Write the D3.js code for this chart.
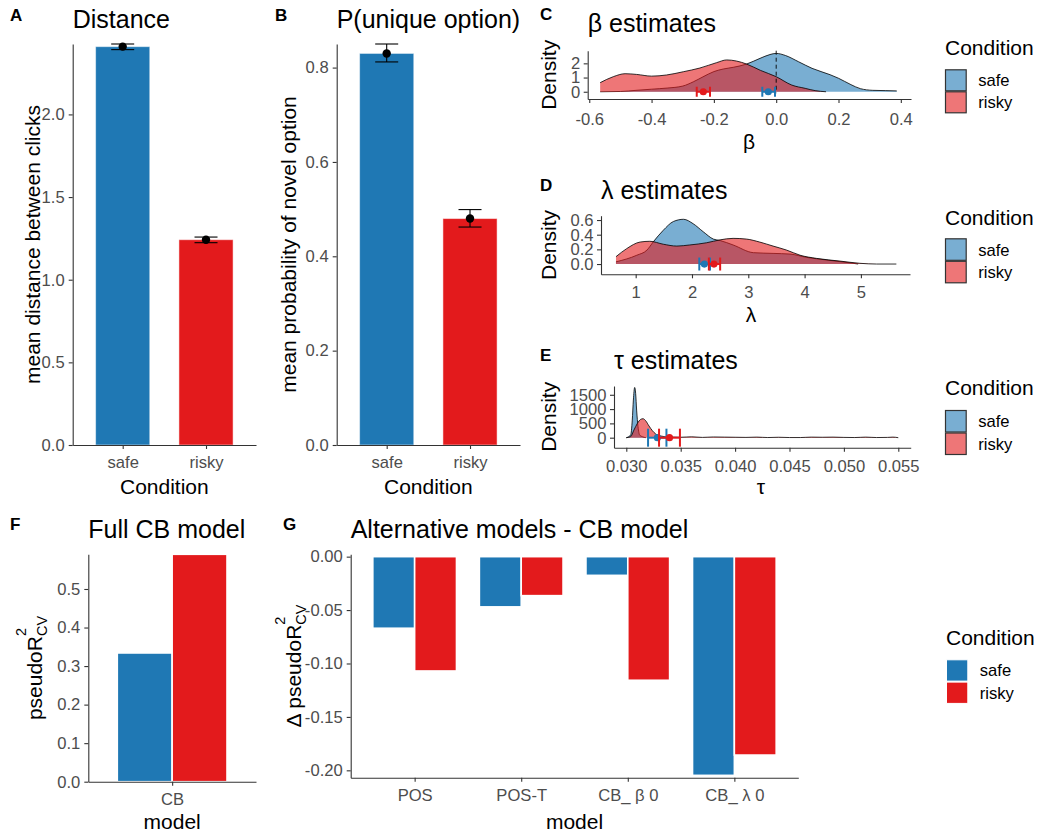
<!DOCTYPE html>
<html><head><meta charset="utf-8">
<script src="https://cdn.jsdelivr.net/npm/d3@7"></script>
<style>body{margin:0;background:#fff}</style>
</head><body>
<script>
// ---------------- DATA ----------------
const conditions = ["safe", "risky"];
const colors = ["#1F78B4", "#E31A1C"];

// A: distance
const distanceMean = [2.410, 1.242];
const distanceLow  = [2.392, 1.224];
const distanceHigh = [2.426, 1.258];
const distanceTicks = [0, 0.5, 1.0, 1.5, 2.0];

// B: P(unique option)
const uniqueMean = [0.830, 0.480];
const uniqueLow  = [0.812, 0.462];
const uniqueHigh = [0.850, 0.499];
const uniqueTicks = [0, 0.2, 0.4, 0.6, 0.8];

// C: beta densities
const betaSafeX = [-0.565,-0.5,-0.45,-0.4,-0.35,-0.3,-0.266,-0.235,-0.2,-0.17,-0.138,-0.095,-0.052,-0.02,0.0,0.03,0.072,0.115,0.173,0.2,0.24,0.27,0.31,0.35,0.387];
const betaSafeY = [0.0,0.02,0.1,0.18,0.26,0.4,0.7,1.05,1.42,1.6,1.72,1.95,2.35,2.62,2.70,2.55,2.11,1.65,1.2,0.95,0.5,0.22,0.1,0.08,0.06];
const betaRiskyX = [-0.565,-0.523,-0.485,-0.448,-0.4,-0.352,-0.298,-0.245,-0.191,-0.159,-0.127,-0.095,-0.05,0.0,0.05,0.093,0.125,0.16];
const betaRiskyY = [0.64,1.06,1.27,1.22,1.1,1.18,1.41,1.67,2.05,2.24,2.16,1.95,1.5,1.06,0.47,0.24,0.08,0.0];
const betaMean = [-0.0254, -0.234];
const betaLow  = [-0.0446, -0.255];
const betaHigh = [-0.0039, -0.2125];
const betaXTicks = [-0.6,-0.4,-0.2,0.0,0.2,0.4];
const betaYTicks = [0,1,2];

// D: lambda densities
const lambdaSafeX = [0.65,1.02,1.2,1.31,1.49,1.67,1.85,2.02,2.2,2.38,2.5,2.73,3.09,3.44,3.74,4.04,4.39,4.86,4.95];
const lambdaSafeY = [0.03,0.12,0.19,0.30,0.46,0.58,0.61,0.55,0.44,0.34,0.32,0.26,0.155,0.145,0.136,0.09,0.055,0.01,0.0];
const lambdaRiskyX = [0.65,0.84,1.08,1.25,1.49,1.73,1.96,2.26,2.5,2.73,2.97,3.2,3.44,3.68,3.92,4.21,4.63,4.98,5.28,5.63];
const lambdaRiskyY = [0.10,0.21,0.30,0.31,0.27,0.245,0.26,0.29,0.33,0.35,0.34,0.30,0.245,0.19,0.12,0.077,0.04,0.01,0.0,0.0];
const lambdaMean = [2.22, 2.39];
const lambdaLow  = [2.13, 2.30];
const lambdaHigh = [2.32, 2.50];
const lambdaXTicks = [1,2,3,4,5];
const lambdaYTicks = [0,0.2,0.4,0.6];

// E: tau densities
const tauSafeX = [0.0300,0.0304,0.03055,0.03065,0.03077,0.03086,0.03095,0.03108,0.03123,0.03148,0.0318];
const tauSafeY = [0,93,616,1314,1756,1547,965,384,93,35,0];
const tauRiskyX = [0.0300,0.0304,0.0307,0.03102,0.03132,0.03154,0.03178,0.03209,0.0324,0.03271,0.03317,0.03394,0.0350,0.0360,0.0370,0.0380,0.0390,0.0400,0.0410,0.0420,0.0430,0.0440,0.0450,0.0460,0.0470,0.0480,0.0490,0.0500,0.0510,0.0520,0.0530,0.0540,0.0545,0.0550];
const tauRiskyY = [0,35,267,500,640,663,593,407,244,128,58,23,15,30,10,25,20,15,10,20,5,15,5,5,20,15,20,10,5,20,5,10,20,0];
const tauMean = [0.03286, 0.03397];
const tauLow  = [0.03200, 0.03301];
const tauHigh = [0.03369, 0.03493];
const tauXTicks = [0.030,0.035,0.040,0.045,0.050,0.055];
const tauYTicks = [0,500,1000,1500];

// F: full CB model
const fullModel = ["CB"];
const fullSafe = [0.334];
const fullRisky = [0.590];
const fullTicks = [0,0.1,0.2,0.3,0.4,0.5];

// G: alternative models - CB model
const altModels = ["POS","POS-T","CB_ β 0","CB_ λ 0"];
const altSafe  = [-0.067,-0.047,-0.0175,-0.2047];
const altRisky = [-0.107,-0.0365,-0.1157,-0.1857];
const altTicks = [0,-0.05,-0.10,-0.15,-0.20];

// ---------------- STYLE ----------------
const FONT = "'Liberation Sans', Arial, Helvetica, sans-serif";
const TICK_FS = 16.6, AXT_FS = 21, TITLE_FS = 25, TAG_FS = 17, SCRIPT_FS = 14.5;

const svg = d3.select("body").append("svg")
  .attr("width", 1037).attr("height", 834)
  .style("font-family", FONT);
svg.append("rect").attr("width",1037).attr("height",834).attr("fill","white");

function styleAxis(g){
  g.attr("font-family", null).attr("font-size", null);
  g.select(".domain").attr("stroke","#333").attr("stroke-width",1.1);
  g.selectAll(".tick line").attr("stroke","#333").attr("stroke-width",1.1);
  g.selectAll(".tick text").attr("fill","#4D4D4D").style("font-size", TICK_FS+"px");
}
function addText(x,y,s,size,opts={}){
  const t = svg.append("text").attr("x",x).attr("y",y).text(s)
    .style("font-size", size+"px").attr("fill","black");
  if(opts.anchor) t.attr("text-anchor",opts.anchor);
  if(opts.bold) t.style("font-weight","bold");
  return t;
}
function yTitle(x,y,s){
  svg.append("text").attr("transform",`translate(${x},${y}) rotate(-90)`)
    .attr("text-anchor","middle").style("font-size",AXT_FS+"px").text(s);
}
function r2Title(x,y,prefix){
  const t = svg.append("text").attr("transform",`translate(${x},${y}) rotate(-90)`)
    .attr("text-anchor","middle").style("font-size",AXT_FS+"px");
  t.append("tspan").text(prefix + "pseudoR");
  t.append("tspan").text("2").style("font-size",SCRIPT_FS+"px").attr("dy",-16);
  t.append("tspan").text("CV").style("font-size",SCRIPT_FS+"px").attr("dx",-SCRIPT_FS*0.556).attr("dy",21);
}
function legend(x, titleY, keyY, keyW, keyH, solid){
  addText(x, titleY, "Condition", AXT_FS);
  conditions.forEach((c,i)=>{
    const ky = keyY + i*keyH;
    svg.append("rect").attr("x",x+0.5).attr("y",ky+0.5).attr("width",keyW-1).attr("height",keyH-1)
      .attr("fill",colors[i]).attr("fill-opacity", solid?1:0.6)
      .attr("stroke", solid?"white":"#333").attr("stroke-width", solid?1:1.2);
    svg.append("text").attr("x",x+keyW+11.5).attr("y",ky+keyH/2).attr("dy","0.36em")
      .style("font-size",TICK_FS+"px").text(c);
  });
}

// ---------------- BAR PANELS (A, B) ----------------
function barPanel(p){
  const x = d3.scalePoint().domain(conditions).range([p.left,p.right]).padding(0.6);
  const y = d3.scaleLinear().domain([0, d3.max(p.high)]).range([p.bottom,p.top]);
  const bw = x.step()*0.65;
  svg.append("g").selectAll("rect").data(conditions).join("rect")
    .attr("x",d=>x(d)-bw/2).attr("width",bw)
    .attr("y",(d,i)=>y(p.mean[i])).attr("height",(d,i)=>y(0)-y(p.mean[i]))
    .attr("fill",(d,i)=>colors[i]).attr("stroke","white").attr("stroke-opacity",0.5).attr("stroke-width",1);
  const eb = svg.append("g");
  conditions.forEach((c,i)=>{
    const cx = x(c), cw = 11.5;
    eb.append("line").attr("x1",cx).attr("x2",cx).attr("y1",y(p.low[i])).attr("y2",y(p.high[i])).attr("stroke","black").attr("stroke-width",1.1);
    [p.low[i],p.high[i]].forEach(v=>eb.append("line").attr("x1",cx-cw).attr("x2",cx+cw).attr("y1",y(v)).attr("y2",y(v)).attr("stroke","black").attr("stroke-width",1.1));
    eb.append("circle").attr("cx",cx).attr("cy",y(p.mean[i])).attr("r",4.2).attr("fill","black");
  });
  svg.append("g").attr("transform",`translate(${p.left},0)`)
    .call(d3.axisLeft(y).tickValues(p.ticks).tickFormat(d=>d.toFixed(1)).tickSize(4).tickPadding(4).tickSizeOuter(0))
    .call(styleAxis);
  svg.append("g").attr("transform",`translate(0,${p.bottom})`)
    .call(d3.axisBottom(x).tickSize(4).tickPadding(7.5).tickSizeOuter(0))
    .call(styleAxis);
  addText(p.left, 27.5, p.title, TITLE_FS);
  addText(p.tagX, 21, p.tag, TAG_FS, {bold:true});
  addText((p.left+p.right)/2, 493.5, "Condition", AXT_FS, {anchor:"middle"});
  yTitle(p.yTitleX, (p.top+p.bottom)/2, p.ylab);
}
barPanel({left:72.7,right:256,top:44,bottom:445,mean:distanceMean,low:distanceLow,high:distanceHigh,
  ticks:distanceTicks,title:"Distance",tag:"A",tagX:10,ylab:"mean distance between clicks",yTitleX:40});
barPanel({left:336.7,right:520,top:44,bottom:445,mean:uniqueMean,low:uniqueLow,high:uniqueHigh,
  ticks:uniqueTicks,title:"P(unique option)",tag:"B",tagX:275,ylab:"mean probability of novel option",yTitleX:296});

// ---------------- DENSITY PANELS (C, D, E) ----------------
function densityPanel(p){
  const x = d3.scaleLinear().domain(p.xDomain).range([p.left,p.right]);
  const y = d3.scaleLinear().domain(p.yDomain).range([p.bottom,p.top]);
  const area = d3.area().x(d=>x(d[0])).y0(y(0)).y1(d=>y(d[1])).curve(d3.curveMonotoneX);
  const line = d3.line().x(d=>x(d[0])).y(d=>y(d[1])).curve(d3.curveMonotoneX);
  p.series.forEach((s,i)=>{
    const pts = d3.zip(s[0], s[1]);
    svg.append("path").attr("d",area(pts)).attr("fill",colors[i]).attr("fill-opacity",0.6);
    svg.append("path").attr("d",line(pts)).attr("fill","none").attr("stroke","black").attr("stroke-width",0.8);
  });
  if(p.vline !== undefined){
    svg.append("line").attr("x1",x(p.vline)).attr("x2",x(p.vline))
      .attr("y1",y(p.yDomain[1])).attr("y2",y(-0.1))
      .attr("stroke","black").attr("stroke-width",0.9).attr("stroke-dasharray","4,3");
  }
  conditions.forEach((c,i)=>{
    const g = svg.append("g").attr("stroke",colors[i]).attr("stroke-width",2);
    const cy = y(0), h = p.capH/2;
    g.append("line").attr("x1",x(p.low[i])).attr("x2",x(p.high[i])).attr("y1",cy).attr("y2",cy);
    [p.low[i],p.high[i]].forEach(v=>g.append("line").attr("x1",x(v)).attr("x2",x(v)).attr("y1",cy-h).attr("y2",cy+h));
    svg.append("circle").attr("cx",x(p.mean[i])).attr("cy",cy).attr("r",3.6).attr("fill",colors[i]);
  });
  svg.append("g").attr("transform",`translate(${p.left},0)`)
    .call(d3.axisLeft(y).tickValues(p.yTicks).tickFormat(p.yFmt).tickSize(4).tickPadding(3.5).tickSizeOuter(0))
    .call(styleAxis);
  svg.append("g").attr("transform",`translate(0,${p.bottom})`)
    .call(d3.axisBottom(x).tickValues(p.xTicks).tickFormat(p.xFmt).tickSize(4).tickPadding(p.xPad).tickSizeOuter(0))
    .call(styleAxis);
  addText(p.left, p.titleY, p.title, TITLE_FS);
  addText(540, p.tagY, p.tag, TAG_FS, {bold:true});
  yTitle(556, (p.top+p.bottom)/2, "Density");
  addText(p.xlabX, p.xlabY, p.xlab, AXT_FS, {anchor:"middle"});
}
densityPanel({left:587.7,right:911,top:50.7,bottom:99,xDomain:[-0.605,0.4327],yDomain:[-0.51,2.89],
  series:[[betaSafeX,betaSafeY],[betaRiskyX,betaRiskyY]],mean:betaMean,low:betaLow,high:betaHigh,capH:10,
  xTicks:betaXTicks,yTicks:betaYTicks,xFmt:d=>d.toFixed(1),yFmt:d=>String(d),xPad:10,vline:0,
  title:"β estimates",titleY:32,tag:"C",tagY:20,xlab:"β",xlabX:749,xlabY:149});
densityPanel({left:601,right:910,top:215.7,bottom:274.3,xDomain:[0.384,5.872],yDomain:[-0.14,0.659],
  series:[[lambdaSafeX,lambdaSafeY],[lambdaRiskyX,lambdaRiskyY]],mean:lambdaMean,low:lambdaLow,high:lambdaHigh,capH:13,
  xTicks:lambdaXTicks,yTicks:lambdaYTicks,xFmt:d=>String(d),yFmt:d=>d.toFixed(1),xPad:8,
  title:"λ estimates",titleY:199,tag:"D",tagY:191,xlab:"λ",xlabX:751,xlabY:322});
densityPanel({left:614,right:910.7,top:386,bottom:447.7,xDomain:[0.02887,0.05614],yDomain:[-350,1807],
  series:[[tauSafeX,tauSafeY],[tauRiskyX,tauRiskyY]],mean:tauMean,low:tauLow,high:tauHigh,capH:18,
  xTicks:tauXTicks,yTicks:tauYTicks,xFmt:d=>d.toFixed(3),yFmt:d=>String(d),xPad:8.5,
  title:"τ estimates",titleY:369,tag:"E",tagY:361,xlab:"τ",xlabX:761,xlabY:494});

legend(945, 55, 69.3, 21.7, 22, false);
legend(945, 225, 238.3, 21.7, 22.5, false);
legend(945, 395, 410, 21.7, 22.5, false);

// ---------------- GROUPED BAR PANELS (F, G) ----------------
function groupedPanel(p){
  const x = d3.scalePoint().domain(p.cats).range([p.left,p.right]).padding(0.6);
  const y = d3.scaleLinear().domain(p.yDomain).range([p.bottom,p.top]);
  const dodge = x.step()*0.785, bw = dodge/2;
  const xs = d3.scaleBand().domain(conditions).range([-dodge/2, dodge/2]);
  [p.safe, p.risky].forEach((vals,i)=>{
    svg.append("g").selectAll("rect").data(p.cats).join("rect")
      .attr("x",d=>x(d)+xs(conditions[i])).attr("width",bw)
      .attr("y",(d,j)=>Math.min(y(0),y(vals[j]))).attr("height",(d,j)=>Math.abs(y(vals[j])-y(0)))
      .attr("fill",colors[i]).attr("stroke","white").attr("stroke-width",1.6);
  });
  svg.append("g").attr("transform",`translate(${p.left},0)`)
    .call(d3.axisLeft(y).tickValues(p.ticks).tickFormat(p.fmt).tickSize(4).tickPadding(4).tickSizeOuter(0))
    .call(styleAxis);
  svg.append("g").attr("transform",`translate(0,${p.bottom})`)
    .call(d3.axisBottom(x).tickSize(4).tickPadding(8).tickSizeOuter(0))
    .call(styleAxis);
  addText(p.left, 538, p.title, TITLE_FS);
  addText(p.tagX, 530, p.tag, TAG_FS, {bold:true});
  addText((p.left+p.right)/2, 829, "model", AXT_FS, {anchor:"middle"});
  r2Title(p.yTitleX, (p.top+p.bottom)/2, p.prefix);
}
groupedPanel({left:88.3,right:256,top:554.3,bottom:781.7,cats:fullModel,safe:fullSafe,risky:fullRisky,
  yDomain:[0, d3.max(fullRisky.concat(fullSafe))],ticks:fullTicks,fmt:d=>d.toFixed(1),
  title:"Full CB model",tag:"F",tagX:10,yTitleX:42,prefix:""});
groupedPanel({left:350.7,right:798.3,top:554.3,bottom:777.7,cats:altModels,safe:altSafe,risky:altRisky,
  yDomain:[-0.2069,0.0022],ticks:altTicks,fmt:d=>d.toFixed(2),
  title:"Alternative models - CB model",tag:"G",tagX:283,yTitleX:301,prefix:"Δ "});
legend(946, 645, 659.3, 22.3, 22.3, true);
</script>
</body></html>
